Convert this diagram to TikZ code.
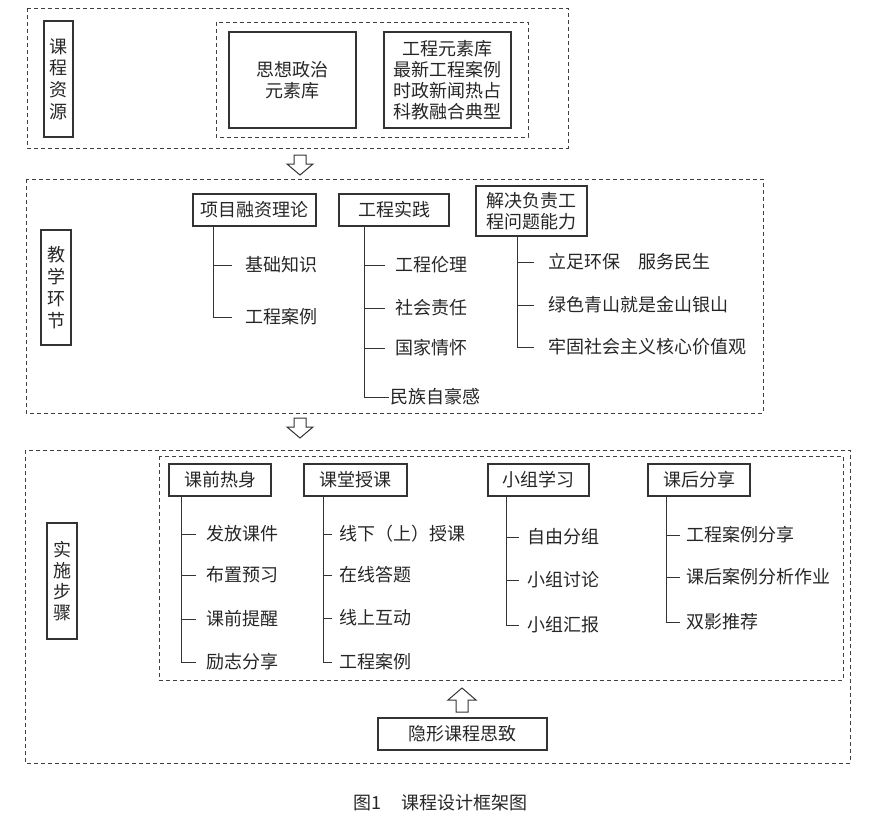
\documentclass[tikz,border=0pt]{standalone}
\usepackage{fontspec}
\setmainfont{Noto Sans CJK SC}
\begin{document}
\begin{tikzpicture}[x=1pt,y=-1pt]
\tikzset{
  box/.style={draw=black!80, line width=1.1pt, inner sep=0pt, text=black!85,
    font=\fontsize{18}{21}\selectfont, align=center},
  dashbox/.style={draw=black!75, line width=0.9pt, dash pattern=on 4pt off 3pt},
  leaf/.style={anchor=west, inner ysep=0pt, text=black!85, font=\fontsize{18}{21}\selectfont},
  branch/.style={draw=black!80, line width=1pt},
  hollow/.style={draw=black!80, line width=1pt, fill=white},
  downarr/.pic={\draw[hollow] (-6,0) -- (6,0) -- (6,9) -- (13,9) -- (0,20) -- (-13,9) -- (-6,9) -- cycle;},
  uparr/.pic={\draw[hollow] (-6,0) -- (6,0) -- (6,-12) -- (14,-12) -- (0,-24) -- (-14,-12) -- (-6,-12) -- cycle;},
}
\useasboundingbox (0,0) rectangle (891,825);

% ---------- Section 1 ----------
\draw[dashbox] (27,8) rectangle (568,148);
\node[box, minimum width=29pt, minimum height=116pt, font=\fontsize{18}{21.7}\selectfont] (lab1) at (58.5,79) {课\\程\\资\\源};
\draw[dashbox] (216,22) rectangle (528,137);
\node[box, minimum width=127pt, minimum height=96pt] (res1) at (292.5,80) {思想政治\\元素库};
\node[box, minimum width=127pt, minimum height=96pt] (res2) at (447.5,80) {工程元素库\\最新工程案例\\时政新闻热占\\科教融合典型};
\pic at (300,155) {downarr};

% ---------- Section 2 ----------
\draw[dashbox] (26,179) rectangle (763,413);
\node[box, minimum width=30pt, minimum height=115pt, font=\fontsize{18}{22}\selectfont] (lab2) at (56,287.5) {教\\学\\环\\节};
\node[box, minimum width=123pt, minimum height=32pt] (p21) at (254.5,210) {项目融资理论};
\node[box, minimum width=110pt, minimum height=32pt] (p22) at (394,210) {工程实践};
\node[box, minimum width=111pt, minimum height=50pt] (p23) at (531.5,211) {解决负责工\\程问题能力};

\node[leaf, inner xsep=13pt] (c211) at (232,265) {基础知识};
\node[leaf, inner xsep=13pt] (c212) at (232,317) {工程案例};
\foreach \c in {c211,c212}
  \draw[branch] ([xshift=21pt]p21.south west) |- (\c.west);

\node[leaf, inner xsep=10pt] (c221) at (385,265) {工程伦理};
\node[leaf, inner xsep=10pt] (c222) at (385,308) {社会责任};
\node[leaf, inner xsep=10pt] (c223) at (385,348) {国家情怀};
\node[leaf, inner xsep=1pt] (c224) at (389,397) {民族自豪感};
\foreach \c in {c221,c222,c223,c224}
  \draw[branch] ([xshift=26pt]p22.south west) |- (\c.west);

\node[leaf, inner xsep=14pt] (c231) at (534,262) {立足环保　服务民生};
\node[leaf, inner xsep=14pt] (c232) at (534,305) {绿色青山就是金山银山};
\node[leaf, inner xsep=14pt] (c233) at (534,347) {牢固社会主义核心价值观};
\foreach \c in {c231,c232,c233}
  \draw[branch] ([xshift=42pt]p23.south west) |- (\c.west);

\pic at (300,418) {downarr};

% ---------- Section 3 ----------
\draw[dashbox] (25,450) rectangle (850,763);
\draw[dashbox] (159,456) rectangle (843,680);
\node[box, minimum width=30pt, minimum height=116pt] (lab3) at (62,581) {实\\施\\步\\骤};
\node[box, minimum width=102pt, minimum height=32pt] (p31) at (220,480) {课前热身};
\node[box, minimum width=103pt, minimum height=32pt] (p32) at (355.5,480) {课堂授课};
\node[box, minimum width=101pt, minimum height=32pt] (p33) at (538.5,480) {小组学习};
\node[box, minimum width=102pt, minimum height=32pt] (p34) at (699,480) {课后分享};

\node[leaf, inner xsep=10pt] (c311) at (196,534) {发放课件};
\node[leaf, inner xsep=10pt] (c312) at (196,575) {布置预习};
\node[leaf, inner xsep=10pt] (c313) at (196,619) {课前提醒};
\node[leaf, inner xsep=10pt] (c314) at (196,662) {励志分享};
\foreach \c in {c311,c312,c313,c314}
  \draw[branch] ([xshift=13pt]p31.south west) |- (\c.west);

\node[leaf, inner xsep=7pt] (c321) at (332,534) {线下（上）授课};
\node[leaf, inner xsep=7pt] (c322) at (332,575) {在线答题};
\node[leaf, inner xsep=7pt] (c323) at (332,618) {线上互动};
\node[leaf, inner xsep=7pt] (c324) at (332,662) {工程案例};
\foreach \c in {c321,c322,c323,c324}
  \draw[branch] ([xshift=20pt]p32.south west) |- (\c.west);

\node[leaf, inner xsep=8pt] (c331) at (519,537) {自由分组};
\node[leaf, inner xsep=8pt] (c332) at (519,580) {小组讨论};
\node[leaf, inner xsep=8pt] (c333) at (519,625) {小组汇报};
\foreach \c in {c331,c332,c333}
  \draw[branch] ([xshift=19pt]p33.south west) |- (\c.west);

\node[leaf, inner xsep=6pt] (c341) at (680,535) {工程案例分享};
\node[leaf, inner xsep=6pt] (c342) at (680,577) {课后案例分析作业};
\node[leaf, inner xsep=6pt] (c343) at (680,622) {双影推荐};
\foreach \c in {c341,c342,c343}
  \draw[branch] ([xshift=19pt]p34.south west) |- (\c.west);

\node[box, minimum width=169pt, minimum height=32pt] (hid) at (462.5,734) {隐形课程思致};
\pic at (462,712) {uparr};

% ---------- Caption ----------
\node[text=black!85, font=\fontsize{18}{21}\selectfont] (cap) at (440.5,803) {图1\hspace{20pt}课程设计框架图};
\end{tikzpicture}
\end{document}
